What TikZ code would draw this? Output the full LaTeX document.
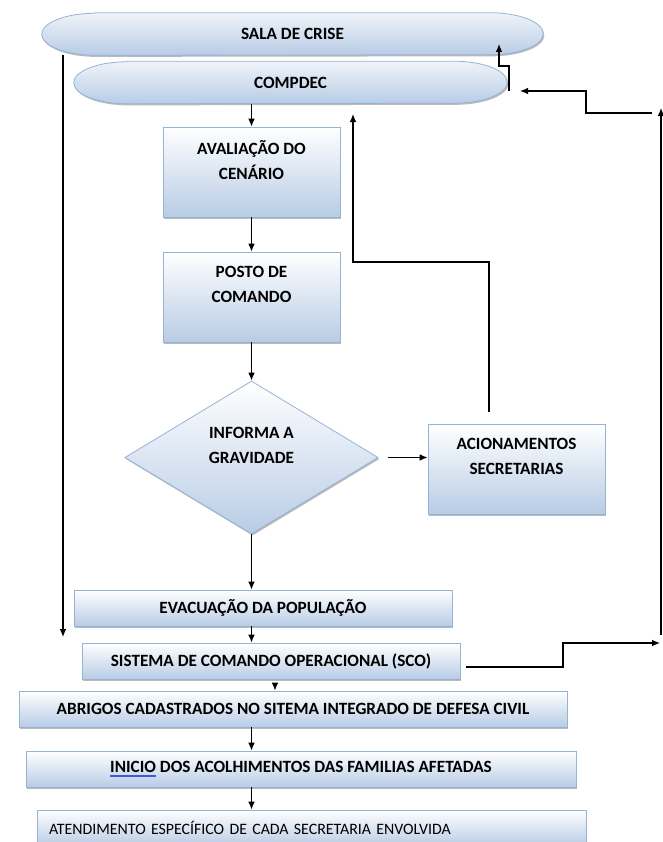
\documentclass[tikz,border=0pt]{standalone}
\usepackage{fontspec}
\setmainfont{Carlito}
\usetikzlibrary{shapes.geometric,shadows,arrows.meta}
\pgfdeclarelayer{background}
\pgfsetlayers{background,main}
\definecolor{boxblue}{RGB}{184,204,229}
\definecolor{edgeblue}{RGB}{149,179,215}
\definecolor{ulblue}{RGB}{60,90,220}
% blue double mark under a word
\newcommand\wordmark[1]{\setbox0\hbox{#1}\rlap{\color{ulblue}\rule[-2.2pt]{\wd0}{0.45pt}}\rlap{\color{ulblue}\rule[-3.4pt]{\wd0}{0.45pt}}\box0\relax}
% long oval behind a node
\newcommand\capsule[1]{\path[oval] ([xshift=40pt]#1.north west) -- ([xshift=-40pt]#1.north east)
  arc[start angle=90,end angle=-90,x radius=40pt,y radius=15.75pt] -- ([xshift=40pt]#1.south west)
  arc[start angle=270,end angle=90,x radius=40pt,y radius=15.75pt] -- cycle;}

\begin{document}
\begin{tikzpicture}[x=0.75pt,y=-0.75pt,
  txt/.style={font=\fontsize{12.9}{18.75}\selectfont\bfseries},
  shaded/.style={draw=edgeblue,line width=0.6pt,top color=white,bottom color=boxblue,
    drop shadow={shadow xshift=0.8pt,shadow yshift=-1.2pt,opacity=0.45,fill=black!60}},
  filled/.style={txt,shaded},
  oval/.style={shaded,top color=boxblue!22},
  ovaltext/.style={txt,rectangle,minimum height=31.5pt,inner sep=0pt},
  tallbox/.style={filled,rectangle,minimum width=132.75pt,minimum height=67.5pt,align=center},
  flatbox/.style={filled,rectangle,minimum height=27pt},
  decision/.style={filled,diamond,minimum width=190pt,minimum height=114.75pt,inner sep=0pt,align=center},
  flow/.style={-{Latex[length=6pt,width=5pt]},line width=0.85pt}]
\useasboundingbox (0,0) rectangle (663,842);

% Ovals at the top
\node[ovaltext,minimum width=375.75pt] (sala) at (292.5,34) {SALA DE CRISE};
\node[ovaltext,minimum width=324.75pt] (compdec) at (290.5,82.5) {COMPDEC};
\begin{pgfonlayer}{background}
\capsule{sala}
\capsule{compdec}
\end{pgfonlayer}

% Main column
\node[tallbox] (aval) at (251.5,172) {AVALIAÇÃO DO\\CENÁRIO\\\mbox{}};
\node[tallbox] (posto) at (251.5,297) {POSTO DE\\COMANDO\\\mbox{}};
\node[decision] (dia) at (251.5,457.5) {INFORMA A\\GRAVIDADE\\\mbox{}};
\node[tallbox] (acion) at (516.5,469) {ACIONAMENTOS\\SECRETARIAS\\\mbox{}};

% Wide boxes
\node[flatbox,minimum width=283.5pt] (evac) at (263,608) {EVACUAÇÃO DA POPULAÇÃO};
\node[flatbox,minimum width=283.5pt] (sco) at (271,661) {SISTEMA DE COMANDO OPERACIONAL (SCO)};
\node[flatbox,minimum width=411pt] (abrig) at (293,709) {ABRIGOS CADASTRADOS NO SITEMA INTEGRADO DE DEFESA CIVIL};
\node[flatbox,minimum width=412.5pt] (inicio) at (301,769) {\wordmark{INICIO} DOS ACOLHIMENTOS DAS FAMILIAS AFETADAS};
\node[flatbox,text width=393.75pt,inner xsep=9pt,align=left,font=\fontsize{11.9}{14}\selectfont] (atend) at (311.5,828) {ATENDIMENTO ESPECÍFICO DE CADA SECRETARIA ENVOLVIDA};

% Free ends
\coordinate (fbstart) at (489,412);
\coordinate (fbend) at (353,114);
\coordinate (lefttop) at (63,55);
\coordinate (leftend) at (63,637);
\coordinate (scoout) at (275,685);
\coordinate (rightlow) at (661,635);
\coordinate (righttop) at (661,108);
\coordinate (backin) at (652,113);
\coordinate (backend) at (520,91);
\coordinate (upstart) at (509,91);
\coordinate (upend) at (499,44);

% Arrows down the column
\draw[flow] (aval.north |- compdec.south) -- (aval.north);
\draw[flow] (aval) -- (posto);
\draw[flow] (posto) -- (dia);
\draw[flow] ([xshift=6.75pt]dia.east) -- (acion.west |- dia.east);
\draw[flow] (dia.south) -- (dia.south |- evac.north);
\draw[flow] (evac.south -| dia.south) -- (sco.north -| dia.south);
\draw[flow] (scoout) -- (scoout |- abrig.north);
\draw[flow] (abrig.south -| dia.south) -- (inicio.north -| dia.south);
\draw[flow] (inicio.south -| dia.south) -- (atend.north -| dia.south);

% Return lines
\draw[flow] (fbstart) -- (fbstart |- 0,262) -| (fbend);
\draw[flow] (lefttop) -- (leftend);
\draw[flow] ([xshift=4.5pt,yshift=-4.5pt]sco.east) -- (563,667) |- (660,643);
\draw[flow] (rightlow) -- (righttop);
\draw[flow] (backin) -| (586,91) -- (backend);
\draw[flow] (upstart) |- (499,66) -- (upend);

\end{tikzpicture}
\end{document}
